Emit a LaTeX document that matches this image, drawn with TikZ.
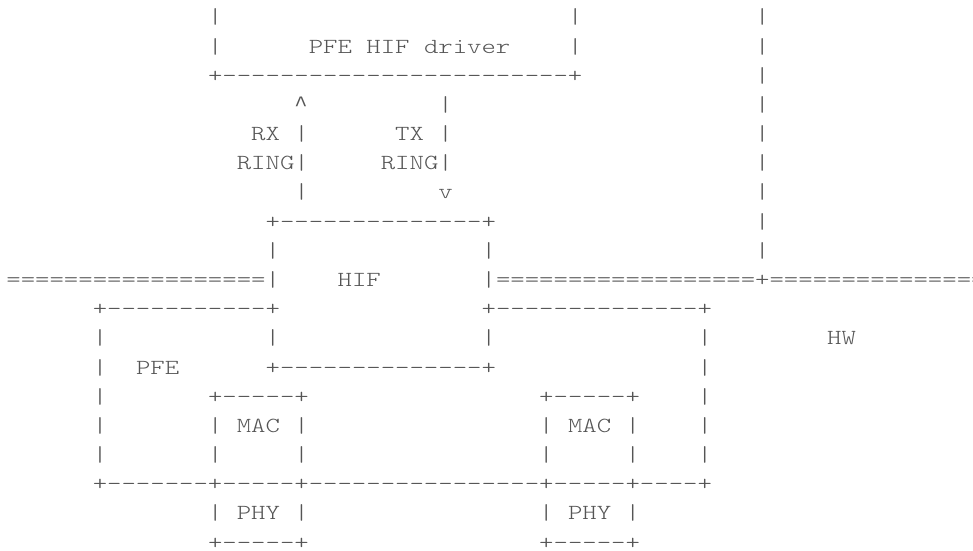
\documentclass[tikz,border=0pt]{standalone}
\usepackage{fontspec}
\setmonofont{lmmonolt10-regular.otf}[FakeStretch=1.2757]
\newfontfamily\caretfont{Liberation Mono}
\definecolor{asciigray}{HTML}{555555}
\newcommand\cw{14.4}
\newcommand\lh{29.18}
\newcommand\frag[4]{\node[asc] (#1) at ({6.4+#2*\cw},{-(23.9+(#3-1)*\lh)}) {#4};}
\tikzset{asc/.style={anchor=base west,inner sep=0pt,outer sep=0pt,text=asciigray,
  font=\ttfamily\fontsize{21.5pt}{21.5pt}\selectfont}}
\begin{document}
\begin{tikzpicture}[x=1pt,y=1pt]
\fill[white] (0,0) rectangle (973,-550);
\path[use as bounding box] (0,0) rectangle (973,-550);
% line 1
\frag{a1}{14}{1}{|}\frag{b1}{39}{1}{|}\frag{c1}{52}{1}{|}
% line 2
\frag{a2}{14}{2}{|}\frag{drv}{21}{2}{PFE HIF driver}\frag{b2}{39}{2}{|}\frag{c2}{52}{2}{|}
% line 3
\frag{a3}{14}{3}{+------------------------+}\frag{c3}{52}{3}{|}
% line 4
\frag{rxup}{20}{4}{{\caretfont\fontsize{22pt}{22pt}\selectfont\char"5E}}\frag{b4}{30}{4}{|}\frag{c4}{52}{4}{|}
% line 5
\frag{rx}{17}{5}{RX |}\frag{tx}{27}{5}{TX |}\frag{c5}{52}{5}{|}
% line 6
\frag{rxr}{16}{6}{RING|}\frag{txr}{26}{6}{RING|}\frag{c6}{52}{6}{|}
% line 7
\frag{a7}{20}{7}{|}\frag{txdn}{30}{7}{v}\frag{c7}{52}{7}{|}
% line 8
\frag{a8}{18}{8}{+--------------+}\frag{c8}{52}{8}{|}
% line 9
\frag{a9}{18}{9}{|}\frag{b9}{33}{9}{|}\frag{c9}{52}{9}{|}
% line 10
\frag{a10}{0}{10}{==================|}\frag{hif}{23}{10}{HIF}\frag{b10}{33}{10}{|==================+================}
% line 11
\frag{a11}{6}{11}{+-----------+}\frag{b11}{33}{11}{+--------------+}
% line 12
\frag{a12}{6}{12}{|}\frag{b12}{18}{12}{|}\frag{c12}{33}{12}{|}\frag{d12}{48}{12}{|}\frag{hw}{57}{12}{HW}
% line 13
\frag{a13}{6}{13}{|}\frag{pfe}{9}{13}{PFE}\frag{b13}{18}{13}{+--------------+}\frag{c13}{48}{13}{|}
% line 14
\frag{a14}{6}{14}{|}\frag{b14}{14}{14}{+-----+}\frag{c14}{37}{14}{+-----+}\frag{d14}{48}{14}{|}
% line 15
\frag{a15}{6}{15}{|}\frag{mac1}{14}{15}{| MAC |}\frag{mac2}{37}{15}{| MAC |}\frag{d15}{48}{15}{|}
% line 16
\frag{a16}{6}{16}{|}\frag{b16}{14}{16}{|}\frag{c16}{20}{16}{|}\frag{d16}{37}{16}{|}\frag{e16}{43}{16}{|}\frag{f16}{48}{16}{|}
% line 17
\frag{a17}{6}{17}{+-------+-----+----------------+-----+----+}
% line 18
\frag{phy1}{14}{18}{| PHY |}\frag{phy2}{37}{18}{| PHY |}
% line 19
\frag{a19}{14}{19}{+-----+}\frag{b19}{37}{19}{+-----+}
\end{tikzpicture}
\end{document}
